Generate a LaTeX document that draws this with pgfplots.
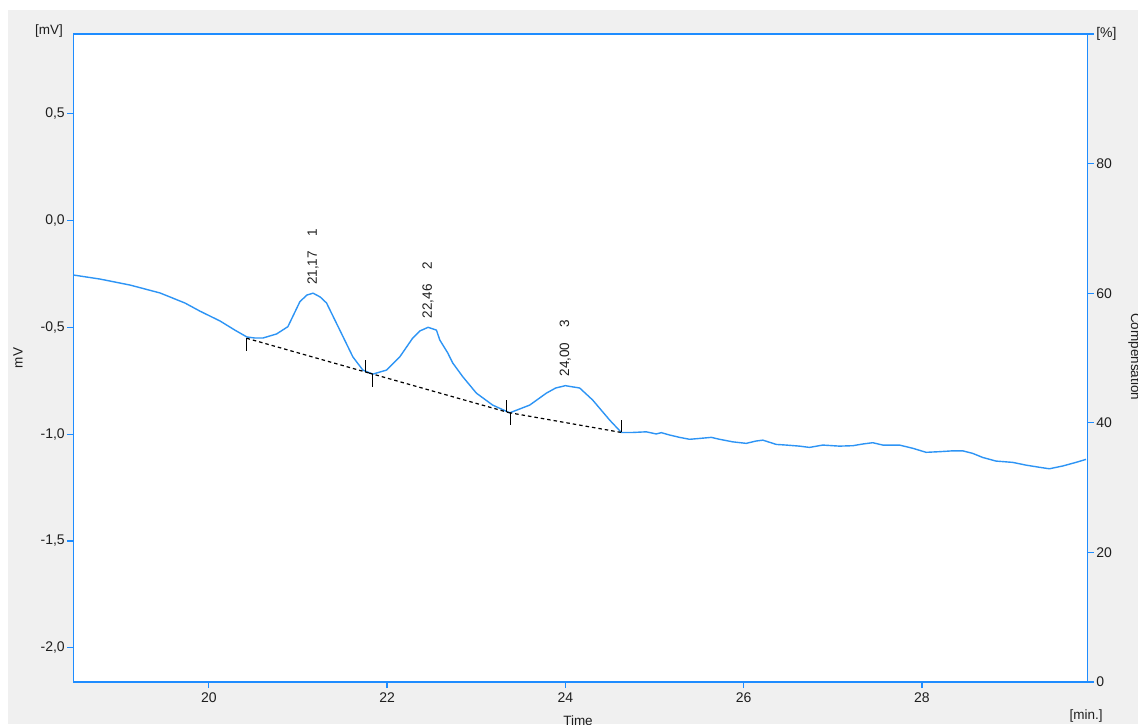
\documentclass[border=0pt]{standalone}
\usepackage{pgfplots}
\pgfplotsset{compat=1.18}
\usepackage{fontspec}
\setmainfont{Liberation Sans}
\definecolor{axisblue}{RGB}{30,140,255}
\definecolor{traceblue}{RGB}{45,148,245}
\definecolor{panelgray}{RGB}{240,240,240}
\definecolor{labelgray}{RGB}{30,30,30}

\begin{document}
\begin{tikzpicture}[x=1pt,y=1pt]
\useasboundingbox (0,0) rectangle (1138,724);
\fill[white] (0,0) rectangle (1138,724);
\fill[panelgray] (8,0) rectangle (1138,714);

% detector signal [mV] versus retention time [min]
\begin{axis}[
  at={(73.3pt,42pt)}, anchor=south west,
  scale only axis, width=1014.4pt, height=648pt,
  xmin=18.48, xmax=29.86, ymin=-2.16, ymax=0.873,
  axis background/.style={fill=white},
  axis line style={axisblue, line width=1.5pt},
  every tick/.style={axisblue, line width=1.2pt},
  tick align=outside, major tick length=6pt,
  xtick pos=lower, ytick pos=left,
  xtick={20,22,24,26,28}, xticklabels={20,22,24,26,28},
  ytick={-2,-1.5,-1,-0.5,0,0.5},
  yticklabels={{-2,0},{-1,5},{-1,0},{-0,5},{0,0},{0,5}},
  ticklabel style={font=\fontsize{14}{16}\selectfont, text=labelgray},
  xticklabel style={yshift=-1pt},
  yticklabel style={xshift=1pt},
]
% chromatogram trace
\addplot[traceblue, line width=1.4pt, line join=round] coordinates {
(18.480,-0.255) (18.779,-0.274) (19.116,-0.302) (19.452,-0.339) (19.732,-0.386)
(19.900,-0.424) (20.125,-0.470) (20.293,-0.513) (20.427,-0.545) (20.517,-0.550)
(20.607,-0.550) (20.760,-0.531) (20.887,-0.497) (21.022,-0.380) (21.100,-0.349)
(21.170,-0.340) (21.250,-0.358) (21.321,-0.386) (21.470,-0.513) (21.616,-0.638)
(21.728,-0.700) (21.840,-0.719) (21.994,-0.700) (22.143,-0.638) (22.288,-0.550)
(22.367,-0.517) (22.460,-0.500) (22.554,-0.513) (22.591,-0.559) (22.681,-0.620)
(22.737,-0.667) (22.849,-0.731) (23.002,-0.808) (23.185,-0.864) (23.376,-0.900)
(23.600,-0.864) (23.787,-0.808) (23.891,-0.784) (24.000,-0.773) (24.161,-0.784)
(24.306,-0.840) (24.497,-0.934) (24.628,-0.992) (24.758,-0.992) (24.908,-0.989)
(25.020,-0.999) (25.077,-0.993) (25.170,-1.004) (25.282,-1.015) (25.394,-1.024)
(25.506,-1.020) (25.637,-1.015) (25.730,-1.024) (25.879,-1.036) (26.029,-1.043)
(26.141,-1.032) (26.216,-1.028) (26.366,-1.048) (26.478,-1.051) (26.627,-1.056)
(26.739,-1.062) (26.888,-1.051) (27.075,-1.056) (27.225,-1.054) (27.337,-1.046)
(27.449,-1.040) (27.561,-1.051) (27.748,-1.051) (27.897,-1.066) (28.047,-1.085)
(28.197,-1.082) (28.346,-1.078) (28.458,-1.078) (28.570,-1.090) (28.682,-1.109)
(28.832,-1.126) (29.018,-1.132) (29.169,-1.145) (29.318,-1.155) (29.430,-1.162)
(29.579,-1.149) (29.729,-1.132) (29.841,-1.118)
};
% integration baselines
\addplot[black, line width=1.2pt, dash pattern=on 3.5pt off 3pt] coordinates {(20.424,-0.551) (21.800,-0.714)};
\addplot[black, line width=1.2pt, dash pattern=on 3.5pt off 3pt] coordinates {(21.800,-0.714) (23.365,-0.899)};
\addplot[black, line width=1.2pt, dash pattern=on 3.5pt off 3pt] coordinates {(23.365,-0.899) (24.628,-0.992)};
% peak start / end markers
\addplot[black, line width=1.3pt] coordinates {(20.424,-0.551) (20.424,-0.611)};
\addplot[black, line width=1.3pt] coordinates {(21.761,-0.709) (21.761,-0.653)};
\addplot[black, line width=1.3pt] coordinates {(21.840,-0.719) (21.840,-0.780)};
\addplot[black, line width=1.3pt] coordinates {(23.342,-0.897) (23.342,-0.840)};
\addplot[black, line width=1.3pt] coordinates {(23.387,-0.901) (23.387,-0.957)};
\addplot[black, line width=1.3pt] coordinates {(24.628,-0.992) (24.628,-0.934)};
% retention time and peak number
\node[rotate=90, anchor=west, inner sep=0pt, text=labelgray, font=\fontsize{13.5}{16}\selectfont]
  at ([yshift=8pt]axis cs:21.17,-0.340) {21,17\hspace{15pt}1};
\node[rotate=90, anchor=west, inner sep=0pt, text=labelgray, font=\fontsize{13.5}{16}\selectfont]
  at ([yshift=9pt]axis cs:22.46,-0.500) {22,46\hspace{15pt}2};
\node[rotate=90, anchor=west, inner sep=0pt, text=labelgray, font=\fontsize{13.5}{16}\selectfont]
  at ([yshift=9pt]axis cs:24.00,-0.773) {24,00\hspace{15pt}3};
\end{axis}

% secondary axis (percent)
\begin{axis}[
  at={(73.3pt,42pt)}, anchor=south west,
  scale only axis, width=1014.4pt, height=648pt,
  xmin=18.48, xmax=29.86, ymin=0, ymax=100,
  axis x line=none, axis y line*=right,
  axis line style={axisblue, line width=1.5pt},
  every tick/.style={axisblue, line width=1.2pt},
  tick align=outside, major tick length=6pt,
  ytick={0,20,40,60,80,100},
  yticklabels={0,20,40,60,80,[\%]},
  ticklabel style={font=\fontsize{14}{16}\selectfont, text=labelgray},
  yticklabel style={xshift=-1pt},
]
\end{axis}

\node[anchor=east, inner sep=0pt, text=labelgray, font=\fontsize{13.5}{16}\selectfont] at (63,693) {[mV]};
\node[rotate=90, inner sep=0pt, text=labelgray, font=\fontsize{13.5}{16}\selectfont] at (18,366) {mV};
\node[anchor=north, inner sep=0pt, text=labelgray, font=\fontsize{13.5}{16}\selectfont] at (578,8) {Time};
\node[inner sep=0pt, text=labelgray, font=\fontsize{13.5}{16}\selectfont] at (1086,7.5) {[min.]};
\node[rotate=-90, anchor=base west, inner sep=0pt, text=labelgray, font=\fontsize{13.5}{16}\selectfont] at (1131,411) {Compensation};
\end{tikzpicture}
\end{document}
